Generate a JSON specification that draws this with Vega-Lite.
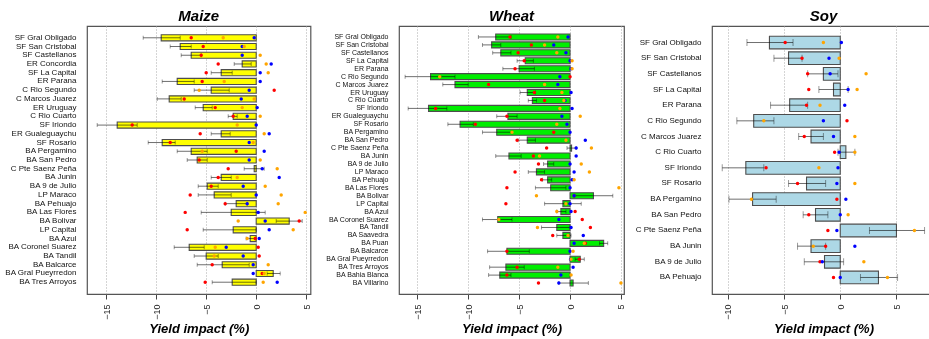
{
  "$schema": "https://vega.github.io/schema/vega-lite/v6.json",
  "padding": {"left": 0, "top": 8, "right": 0, "bottom": 0},
  "spacing": 0,
  "config": {
    "font": "Liberation Sans",
    "view": {"stroke": "#555", "strokeWidth": 1.2},
    "title": {"fontSize": 15, "fontStyle": "italic", "fontWeight": "bold", "offset": 2, "anchor": "middle", "color": "#000"},
    "axisY": {"ticks": false, "domain": false, "title": null, "labelPadding": 11, "labelColor": "#111", "labelLimit": 300, "grid": false},
    "axisX": {"grid": true, "gridDash": [1, 2], "gridColor": "#aaa", "domain": false, "tickSize": 5, "tickColor": "#444", "labelAngle": -90, "labelFontSize": 9, "labelPadding": 5, "labelColor": "#222", "titleFontSize": 13, "titleFontStyle": "italic", "titleFontWeight": "bold", "titlePadding": 3, "titleColor": "#000"}
  },
  "datasets": {
    "maize": [
      {"region": "SF Gral Obligado", "mean": -9.5, "lo": -11.3, "hi": -7.6, "red": -6.5, "blue": -0.2, "orange": -3.3},
      {"region": "SF San Cristobal", "mean": -7.6, "lo": -8.6, "hi": -6.5, "red": -5.3, "blue": -1.4, "orange": -1.2},
      {"region": "SF Castellanos", "mean": -6.5, "lo": -7.5, "hi": -5.5, "red": -5.5, "blue": -1.4, "orange": 0.4},
      {"region": "ER Concordia", "mean": -1.4, "lo": -2.2, "hi": -0.5, "red": -3.8, "blue": 1.5, "orange": 1.0},
      {"region": "SF La Capital", "mean": -3.5, "lo": -4.5, "hi": -2.4, "red": -5.0, "blue": 0.4, "orange": 1.2},
      {"region": "ER Parana", "mean": -7.9, "lo": -9.4, "hi": -6.2, "red": -5.4, "blue": 0.4, "orange": -3.2},
      {"region": "C Rio Segundo", "mean": -4.5, "lo": -6.2, "hi": -2.7, "red": 1.8, "blue": -0.7, "orange": -5.7},
      {"region": "C Marcos Juarez", "mean": -8.7, "lo": -9.9, "hi": -7.5, "red": -7.2, "blue": -1.5, "orange": -0.2},
      {"region": "ER Uruguay", "mean": -5.3, "lo": -6.1, "hi": -4.4, "red": -4.1, "blue": 0.1, "orange": -1.4},
      {"region": "C Rio Cuarto", "mean": -2.3, "lo": -2.8, "hi": -1.9, "red": -2.3, "blue": -0.9, "orange": 0.4},
      {"region": "SF Iriondo", "mean": -13.9, "lo": -15.9, "hi": -11.9, "red": -12.4, "blue": 0.0, "orange": -1.9},
      {"region": "ER Gualeguaychu", "mean": -3.5, "lo": -4.5, "hi": -2.6, "red": -5.6, "blue": 1.3, "orange": 0.8},
      {"region": "SF Rosario", "mean": -9.4, "lo": -10.8, "hi": -8.1, "red": -8.6, "blue": -0.7, "orange": -0.3},
      {"region": "BA Pergamino", "mean": -6.5, "lo": -7.9, "hi": -4.9, "red": -2.0, "blue": 0.8, "orange": -5.4},
      {"region": "BA San Pedro", "mean": -5.9, "lo": -6.9, "hi": -4.9, "red": -5.7, "blue": -0.7, "orange": 0.4},
      {"region": "C Pte Saenz Peña", "mean": -0.2, "lo": -1.2, "hi": 0.8, "red": -2.8, "blue": 0.6, "orange": 2.1},
      {"region": "BA Junin", "mean": -3.5, "lo": -4.5, "hi": -2.5, "red": -3.8, "blue": 2.3, "orange": -1.9},
      {"region": "BA 9 de Julio", "mean": -4.9, "lo": -5.8, "hi": -3.8, "red": -4.5, "blue": -1.3, "orange": 0.9},
      {"region": "LP Maraco", "mean": -4.2, "lo": -5.8, "hi": -2.5, "red": -6.6, "blue": 0.0, "orange": 2.5},
      {"region": "BA Pehuajo", "mean": -2.0, "lo": -3.1, "hi": -0.9, "red": -3.1, "blue": -0.9, "orange": 2.2},
      {"region": "BA Las Flores", "mean": -2.5, "lo": -5.5, "hi": 0.9, "red": -7.1, "blue": 0.2, "orange": 4.9},
      {"region": "BA Bolivar", "mean": 3.3, "lo": 2.0, "hi": 4.6, "red": 4.3, "blue": 0.9, "orange": -1.8},
      {"region": "LP Capital", "mean": -2.3, "lo": -5.3, "hi": 0.0, "red": -6.9, "blue": 1.3, "orange": 3.7},
      {"region": "BA Azul", "mean": -0.6, "lo": -1.0, "hi": -0.1, "red": -0.1, "blue": 0.3, "orange": -0.9},
      {"region": "BA Coronel Suarez", "mean": -6.7, "lo": -8.2, "hi": -5.2, "red": 0.2, "blue": -3.0, "orange": -4.1},
      {"region": "BA Tandil", "mean": -5.0, "lo": -6.2, "hi": -3.8, "red": 0.3, "blue": -1.3, "orange": -4.2},
      {"region": "BA Balcarce", "mean": -3.4, "lo": -5.9, "hi": -0.7, "red": -4.4, "blue": -0.3, "orange": 1.2},
      {"region": "BA Gral Pueyrredon", "mean": 1.7, "lo": 1.1, "hi": 2.4, "red": 0.6, "blue": -0.3, "orange": 0.8},
      {"region": "BA Tres Arroyos", "mean": -2.4, "lo": -4.4, "hi": 0.0, "red": -5.1, "blue": 2.1, "orange": 0.7}
    ],
    "wheat": [
      {"region": "SF Gral Obligado", "mean": -7.3, "lo": -9.0, "hi": -5.8, "red": -5.9, "blue": -0.2, "orange": -1.2},
      {"region": "SF San Cristobal", "mean": -7.7, "lo": -8.6, "hi": -6.8, "red": -3.8, "blue": -1.6, "orange": -2.5},
      {"region": "SF Castellanos", "mean": -6.8, "lo": -7.6, "hi": -5.8, "red": -5.1, "blue": -0.4, "orange": -1.3},
      {"region": "SF La Capital", "mean": -4.4, "lo": -5.2, "hi": -3.6, "red": -4.5, "blue": 0.0, "orange": 0.2},
      {"region": "ER Parana", "mean": -5.0, "lo": -6.6, "hi": -3.5, "red": -5.4, "blue": 0.1, "orange": 0.2},
      {"region": "C Rio Segundo", "mean": -13.7, "lo": -16.2, "hi": -11.3, "red": 0.0, "blue": -1.0, "orange": -12.8},
      {"region": "C Marcos Juarez", "mean": -11.3, "lo": -12.5, "hi": -10.0, "red": -8.0, "blue": -1.2, "orange": -2.5},
      {"region": "ER Uruguay", "mean": -4.2, "lo": -4.9, "hi": -3.4, "red": -3.5, "blue": 0.1, "orange": -0.8},
      {"region": "C Rio Cuarto", "mean": -3.7, "lo": -4.1, "hi": -3.3, "red": -2.5, "blue": -0.5, "orange": -0.6},
      {"region": "SF Iriondo", "mean": -13.9, "lo": -15.9, "hi": -12.1, "red": -13.2, "blue": 0.2, "orange": -1.0},
      {"region": "ER Gualeguaychu", "mean": -6.1, "lo": -7.2, "hi": -5.2, "red": -6.2, "blue": -0.8, "orange": 1.0},
      {"region": "SF Rosario", "mean": -10.8, "lo": -12.0, "hi": -9.5, "red": -9.3, "blue": -0.3, "orange": -1.3},
      {"region": "BA Pergamino", "mean": -7.2, "lo": -8.6, "hi": -5.7, "red": -1.6, "blue": 0.0, "orange": -5.7},
      {"region": "BA San Pedro", "mean": -4.2, "lo": -5.1, "hi": -3.4, "red": -5.2, "blue": 1.5, "orange": -0.4},
      {"region": "C Pte Saenz Peña", "mean": 0.15, "lo": -0.3, "hi": 0.6, "red": -2.3, "blue": 0.6, "orange": 2.1},
      {"region": "BA Junin", "mean": -6.0, "lo": -7.3, "hi": -4.8, "red": -3.6, "blue": 0.6, "orange": -3.0},
      {"region": "BA 9 de Julio", "mean": -2.2, "lo": -2.6, "hi": -1.6, "red": -3.1, "blue": 0.0, "orange": 1.1},
      {"region": "LP Maraco", "mean": -3.3, "lo": -4.1, "hi": -2.5, "red": -5.4, "blue": 0.4, "orange": 1.9},
      {"region": "BA Pehuajo", "mean": -2.2, "lo": -2.7, "hi": -1.8, "red": -2.8, "blue": 0.2, "orange": 0.4},
      {"region": "BA Las Flores", "mean": -1.9, "lo": -3.4, "hi": -0.4, "red": -6.2, "blue": 0.0, "orange": 4.8},
      {"region": "BA Bolivar", "mean": 2.3, "lo": 0.4, "hi": 4.2, "red": 0.4, "blue": 0.4, "orange": -3.3},
      {"region": "LP Capital", "mean": -0.7, "lo": -2.5, "hi": 1.1, "red": -6.3, "blue": 0.0, "orange": -0.4},
      {"region": "BA Azul", "mean": -0.9, "lo": -1.3, "hi": -0.4, "red": 0.5, "blue": 0.1, "orange": -1.3},
      {"region": "BA Coronel Suarez", "mean": -7.1, "lo": -8.6, "hi": -5.7, "red": 1.2, "blue": -1.1, "orange": -7.0},
      {"region": "BA Tandil", "mean": -1.3, "lo": -2.8, "hi": 0.0, "red": 2.0, "blue": 0.1, "orange": -3.2},
      {"region": "BA Saavedra", "mean": -0.7, "lo": -1.3, "hi": 0.1, "red": -1.7, "blue": 1.3, "orange": -0.2},
      {"region": "BA Puan", "mean": 3.3, "lo": 2.9, "hi": 3.7, "red": 1.5, "blue": 0.4, "orange": 1.4},
      {"region": "BA Balcarce", "mean": -6.2, "lo": -8.1, "hi": -4.0, "red": -6.2, "blue": 0.0, "orange": 0.3},
      {"region": "BA Gral Pueyrredon", "mean": 1.0, "lo": 0.5, "hi": 1.4, "red": 0.9, "blue": 0.05, "orange": 0.1},
      {"region": "BA Tres Arroyos", "mean": -6.3, "lo": -7.9, "hi": -4.5, "red": -5.2, "blue": 0.3, "orange": -1.2},
      {"region": "BA Bahia Blanca", "mean": -6.9, "lo": -8.0, "hi": -5.8, "red": -6.2, "blue": -0.9, "orange": 0.1},
      {"region": "BA Villarino", "mean": 0.3, "lo": -1.1, "hi": 1.8, "red": -3.1, "blue": -1.1, "orange": 5.0}
    ],
    "soy": [
      {"region": "SF Gral Obligado", "mean": -6.3, "lo": -8.3, "hi": -4.2, "red": -4.9, "blue": 0.1, "orange": -1.5},
      {"region": "SF San Cristobal", "mean": -4.6, "lo": -5.9, "hi": -3.4, "red": -3.4, "blue": -1.0, "orange": -0.1},
      {"region": "SF Castellanos", "mean": -1.5, "lo": -2.9, "hi": -0.2, "red": -2.9, "blue": -0.9, "orange": 2.3},
      {"region": "SF La Capital", "mean": -0.6, "lo": -1.9, "hi": 0.7, "red": -2.8, "blue": 0.7, "orange": 1.5},
      {"region": "ER Parana", "mean": -4.5, "lo": -6.2, "hi": -2.9, "red": -3.0, "blue": 0.4, "orange": -1.8},
      {"region": "C Rio Segundo", "mean": -7.7, "lo": -9.2, "hi": -5.9, "red": 0.6, "blue": -1.5, "orange": -6.8},
      {"region": "C Marcos Juarez", "mean": -2.6, "lo": -3.7, "hi": -1.5, "red": -3.2, "blue": -0.6, "orange": 1.3},
      {"region": "C Rio Cuarto", "mean": 0.5, "lo": -0.2, "hi": 1.3, "red": -0.5, "blue": -0.1, "orange": 1.3},
      {"region": "SF Iriondo", "mean": -8.4, "lo": -10.5, "hi": -6.8, "red": -6.6, "blue": -0.2, "orange": -1.9},
      {"region": "SF Rosario", "mean": -3.0, "lo": -4.6, "hi": -1.3, "red": -3.8, "blue": -0.3, "orange": 1.3},
      {"region": "BA Pergamino", "mean": -7.8, "lo": -9.9, "hi": -5.7, "red": -0.3, "blue": 0.5, "orange": -7.9},
      {"region": "BA San Pedro", "mean": -2.2, "lo": -3.3, "hi": -1.1, "red": -2.8, "blue": 0.0, "orange": 0.7},
      {"region": "C Pte Saenz Peña", "mean": 5.0, "lo": 2.6, "hi": 7.5, "red": -1.1, "blue": -0.3, "orange": 6.6},
      {"region": "BA Junin", "mean": -2.6, "lo": -3.8, "hi": -1.3, "red": -1.3, "blue": 1.3, "orange": -2.4},
      {"region": "BA 9 de Julio", "mean": -1.4, "lo": -3.2, "hi": 0.3, "red": -1.8, "blue": -1.6, "orange": 2.1},
      {"region": "BA Pehuajo", "mean": 3.4, "lo": 1.8, "hi": 5.1, "red": -0.6, "blue": 0.0, "orange": 4.2}
    ]
  },
  "hconcat": [
    {
      "width": 223.5, "height": 268,
      "title": "Maize",
      "data": {"name": "maize"},
      "encoding": {"y": {"field": "region", "type": "nominal", "sort": null, "scale": {"paddingInner": 0.3, "paddingOuter": 1.38}, "axis": {"labelFontSize": 8, "minExtent": 86, "maxExtent": 86}}},
      "layer": [
        {"mark": {"type": "bar", "fill": "#FFFF00", "stroke": "#4d4d4d", "strokeWidth": 1.1},
         "encoding": {"x": {"field": "mean", "type": "quantitative", "title": "Yield impact (%)", "scale": {"domain": [-16.92, 5.43], "nice": false, "zero": false}, "axis": {"values": [-15, -10, -5, 0, 5]}}}},
        {"mark": {"type": "rule", "color": "#6f6f6f", "blend": "multiply", "strokeWidth": 1},
         "encoding": {"x": {"field": "lo", "type": "quantitative"}, "x2": {"field": "hi"}}},
        {"mark": {"type": "tick", "color": "#6f6f6f", "blend": "multiply", "size": 4, "thickness": 1},
         "encoding": {"x": {"field": "lo", "type": "quantitative"}}},
        {"mark": {"type": "tick", "color": "#6f6f6f", "blend": "multiply", "size": 4, "thickness": 1},
         "encoding": {"x": {"field": "hi", "type": "quantitative"}}},
        {"transform": [{"fold": ["red", "blue", "orange"], "as": ["series", "val"]}],
         "mark": {"type": "circle", "size": 12, "opacity": 1},
         "encoding": {"x": {"field": "val", "type": "quantitative"}, "color": {"field": "series", "type": "nominal", "scale": {"domain": ["red", "blue", "orange"], "range": ["#FF0000", "#0000FF", "#FFA500"]}, "legend": null}}}
      ]
    },
    {
      "width": 225, "height": 268,
      "title": "Wheat",
      "data": {"name": "wheat"},
      "encoding": {"y": {"field": "region", "type": "nominal", "sort": null, "scale": {"paddingInner": 0.24, "paddingOuter": 1.19}, "axis": {"labelFontSize": 7, "minExtent": 86, "maxExtent": 86}}},
      "layer": [
        {"mark": {"type": "bar", "fill": "#00EE00", "stroke": "#4d4d4d", "strokeWidth": 1.1},
         "encoding": {"x": {"field": "mean", "type": "quantitative", "title": "Yield impact (%)", "scale": {"domain": [-16.8, 5.3], "nice": false, "zero": false}, "axis": {"values": [-15, -10, -5, 0, 5]}}}},
        {"mark": {"type": "rule", "color": "#6f6f6f", "blend": "multiply", "strokeWidth": 1},
         "encoding": {"x": {"field": "lo", "type": "quantitative"}, "x2": {"field": "hi"}}},
        {"mark": {"type": "tick", "color": "#6f6f6f", "blend": "multiply", "size": 4, "thickness": 1},
         "encoding": {"x": {"field": "lo", "type": "quantitative"}}},
        {"mark": {"type": "tick", "color": "#6f6f6f", "blend": "multiply", "size": 4, "thickness": 1},
         "encoding": {"x": {"field": "hi", "type": "quantitative"}}},
        {"transform": [{"fold": ["red", "blue", "orange"], "as": ["series", "val"]}],
         "mark": {"type": "circle", "size": 12, "opacity": 1},
         "encoding": {"x": {"field": "val", "type": "quantitative"}, "color": {"field": "series", "type": "nominal", "scale": {"domain": ["red", "blue", "orange"], "range": ["#FF0000", "#0000FF", "#FFA500"]}, "legend": null}}}
      ]
    },
    {
      "width": 223, "height": 268,
      "title": "Soy",
      "data": {"name": "soy"},
      "encoding": {"y": {"field": "region", "type": "nominal", "sort": null, "scale": {"paddingInner": 0.19, "paddingOuter": 0.65}, "axis": {"labelFontSize": 8, "minExtent": 84, "maxExtent": 84}}},
      "layer": [
        {"mark": {"type": "bar", "fill": "#ADD8E6", "stroke": "#4d4d4d", "strokeWidth": 1.1},
         "encoding": {"x": {"field": "mean", "type": "quantitative", "title": "Yield impact (%)", "scale": {"domain": [-11.41, 8.43], "nice": false, "zero": false}, "axis": {"values": [-10, -5, 0, 5]}}}},
        {"mark": {"type": "rule", "color": "#6f6f6f", "blend": "multiply", "strokeWidth": 1},
         "encoding": {"x": {"field": "lo", "type": "quantitative"}, "x2": {"field": "hi"}}},
        {"mark": {"type": "tick", "color": "#6f6f6f", "blend": "multiply", "size": 7, "thickness": 1},
         "encoding": {"x": {"field": "lo", "type": "quantitative"}}},
        {"mark": {"type": "tick", "color": "#6f6f6f", "blend": "multiply", "size": 7, "thickness": 1},
         "encoding": {"x": {"field": "hi", "type": "quantitative"}}},
        {"transform": [{"fold": ["red", "blue", "orange"], "as": ["series", "val"]}],
         "mark": {"type": "circle", "size": 12, "opacity": 1},
         "encoding": {"x": {"field": "val", "type": "quantitative"}, "color": {"field": "series", "type": "nominal", "scale": {"domain": ["red", "blue", "orange"], "range": ["#FF0000", "#0000FF", "#FFA500"]}, "legend": null}}}
      ]
    }
  ]
}
